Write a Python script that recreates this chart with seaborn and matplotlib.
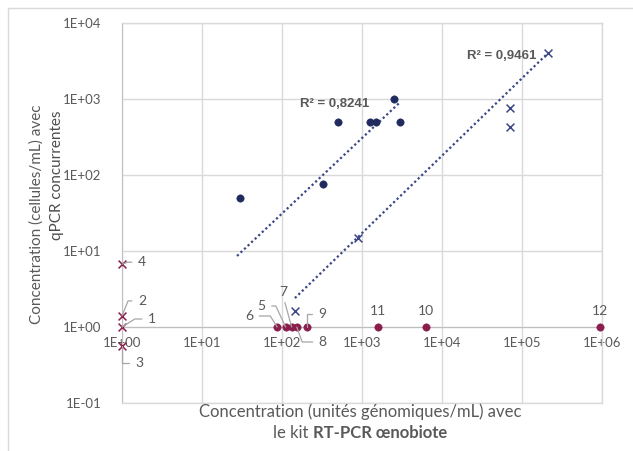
import numpy as np
import pandas as pd
import matplotlib
matplotlib.use('Agg')
import matplotlib.pyplot as plt
import seaborn as sns
from matplotlib.lines import Line2D
from matplotlib.ticker import FuncFormatter, LogLocator, NullLocator

# data
# navy dots (first trend line)
navy_dot_x = [30, 330, 500, 1250, 1500, 2500, 3000]
navy_dot_y = [50, 75, 500, 500, 500, 1000, 500]
# navy crosses (second trend line)
navy_cross_x = [145, 900, 70000, 70000, 210000]
navy_cross_y = [1.6, 15, 750, 430, 4000]
# maroon crosses on the y axis, labelled 1-4
maroon_cross_lab = ['1', '2', '3', '4']
maroon_cross_x = [1, 1, 1, 1]
maroon_cross_y = [1, 1.4, 0.57, 6.7]
# maroon dots on the x axis, labelled 5-12
maroon_dot_lab = ['5', '6', '7', '8', '9', '10', '11', '12']
maroon_dot_x = [111, 87, 132, 153, 204, 6250, 1600, 950000]
maroon_dot_y = [1, 1, 1, 1, 1, 1, 1, 1]
# trend lines (power) as drawn
trend1_x = [27.4, 2900]
trend1_y = [8.6, 880]
trend2_x = [145, 213000]
trend2_y = [2.4, 4050]
r2_labels = ['R² = 0,8241', 'R² = 0,9461']
r2_x = [453, 56200]
r2_y = [857, 3656]

NAVY = '#1f2a5e'
NAVY_X = '#3b4786'
MAROON = '#8b1d4c'
GREY_TXT = '#595959'
GRID = '#d9d9d9'
LEADER = '#a6a6a6'

sns.set_style('white')
plt.rcParams['font.family'] = ['Lato', 'DejaVu Sans']

fig = plt.figure(figsize=(6.33, 4.51), dpi=100)
ax = fig.add_axes([122/633, 1-403/451, 480/633, 380/451])
ax.set_xscale('log')
ax.set_yscale('log')
ax.set_xlim(1, 1e6)
ax.set_ylim(0.1, 1e4)

# trend lines
ax.plot(trend1_x, trend1_y, linestyle=(0, (1, 1.2)), color=NAVY_X, lw=1.6, zorder=2)
ax.plot(trend2_x, trend2_y, linestyle=(0, (1, 1.2)), color=NAVY_X, lw=1.6, zorder=2)

sns.scatterplot(x=navy_dot_x, y=navy_dot_y, color=NAVY, s=28, edgecolor=NAVY, ax=ax, zorder=3)
sns.scatterplot(x=navy_cross_x, y=navy_cross_y, color=NAVY_X, marker='x', s=32, linewidth=1.1, ax=ax, zorder=3)
sns.scatterplot(x=maroon_cross_x, y=maroon_cross_y, color=MAROON, marker='x', s=32, linewidth=1.1,
                ax=ax, zorder=4, clip_on=False)
sns.scatterplot(x=maroon_dot_x, y=maroon_dot_y, color=MAROON, s=28, edgecolor=MAROON, ax=ax,
                zorder=4, clip_on=False)

for lab, x, y in zip(r2_labels, r2_x, r2_y):
    ax.text(x, y, lab, family=['Liberation Sans'], fontweight='bold', fontsize=9.5,
            color=GREY_TXT, ha='center', va='center')

# data labels with leader lines (offsets in pixels, angles of the leader segments)
lab_pos = {
    '1': (30, 8, 0, 32), '2': (20, 15, 0, 68), '3': (17, -17, 0, 90), '4': (20, 2, 0, 20),
    '5': (-24, 21, 0, 115), '6': (-28, 11, 0, 122), '7': (-8, 35, None, None),
    '8': (26, -15, 0, -70), '9': (15, 13, 0, 90),
    '10': (0, 16, None, None), '11': (0, 16, None, None), '12': (0, 16, None, None),
}
all_lab = maroon_cross_lab + maroon_dot_lab
all_x = maroon_cross_x + maroon_dot_x
all_y = maroon_cross_y + maroon_dot_y
for lab, x, y in zip(all_lab, all_x, all_y):
    dx, dy, a, b = lab_pos[lab]
    arrow = None
    if a is not None:
        rel = (1, 0.5) if dx < 0 else (0, 0.5)
        arrow = dict(arrowstyle='-', color=LEADER, lw=0.9, shrinkA=2, shrinkB=0, relpos=rel,
                     connectionstyle=f'angle,angleA={a},angleB={b},rad=0')
    elif lab == '7':
        arrow = dict(arrowstyle='-', color=LEADER, lw=0.9, shrinkA=1, shrinkB=0, relpos=(0.5, 0))
    ax.annotate(lab, (x, y), xytext=(dx, dy), textcoords='offset pixels', ha='center', va='center',
                fontsize=10, color=GREY_TXT, arrowprops=arrow, annotation_clip=False, zorder=5)

# axes styling: axes cross at 1
for s in ['top', 'right']:
    ax.spines[s].set_color(GRID)
    ax.spines[s].set_linewidth(1)
ax.spines['bottom'].set_position(('data', 1))
ax.spines['bottom'].set_color('#bfbfbf')
ax.spines['left'].set_color('#bfbfbf')
ax.spines['bottom'].set_zorder(1)
ax.spines['left'].set_zorder(1)
ax.xaxis.set_major_locator(LogLocator(base=10, numticks=10))
ax.yaxis.set_major_locator(LogLocator(base=10, numticks=10))
ax.xaxis.set_minor_locator(NullLocator())
ax.yaxis.set_minor_locator(NullLocator())
fmt = FuncFormatter(lambda v, p: '1E{:+03d}'.format(int(round(np.log10(v)))))
ax.xaxis.set_major_formatter(fmt)
ax.yaxis.set_major_formatter(fmt)
ax.tick_params(axis='x', length=0, pad=7, labelsize=9.5, labelcolor=GREY_TXT)
ax.tick_params(axis='y', length=0, pad=15, labelsize=9.5, labelcolor=GREY_TXT)
ax.grid(True, color=GRID, lw=1)
ax.set_axisbelow(True)
ax.add_line(Line2D([0, 1], [0, 0], transform=ax.transAxes, color=GRID, lw=1, clip_on=False))

# axis titles
W, H = 633, 451
fig.text(360/W, 1-412/H, 'Concentration (unités génomiques/mL) avec', ha='center', va='center',
         fontsize=12, color=GREY_TXT)
t1 = fig.text(0, 1-433/H, 'le kit ', ha='left', va='center', fontsize=12, color=GREY_TXT)
t2 = fig.text(0, 1-433/H, 'RT-PCR œnobiote', ha='left', va='center', fontsize=12,
              color=GREY_TXT, fontweight='bold')
r = fig.canvas.get_renderer()
w1 = t1.get_window_extent(r).width
w2 = t2.get_window_extent(r).width
x0 = 360 - (w1 + w2) / 2
t1.set_x(x0 / W)
t2.set_x((x0 + w1) / W)

fig.text(37/W, 1-214/H, 'Concentration (cellules/mL) avec', ha='center', va='center',
         rotation=90, fontsize=11, color=GREY_TXT)
fig.text(57/W, 1-175/H, 'qPCR concurrentes', ha='center', va='center',
         rotation=90, fontsize=11, color='#4d4d4d')

# chart area border
fig.add_artist(Line2D([8/W, 1], [1-8/H, 1-8/H], transform=fig.transFigure, color=GRID, lw=1))
fig.add_artist(Line2D([8/W, 8/W], [0, 1-8/H], transform=fig.transFigure, color=GRID, lw=1))

fig.savefig('out.png', dpi=100)
